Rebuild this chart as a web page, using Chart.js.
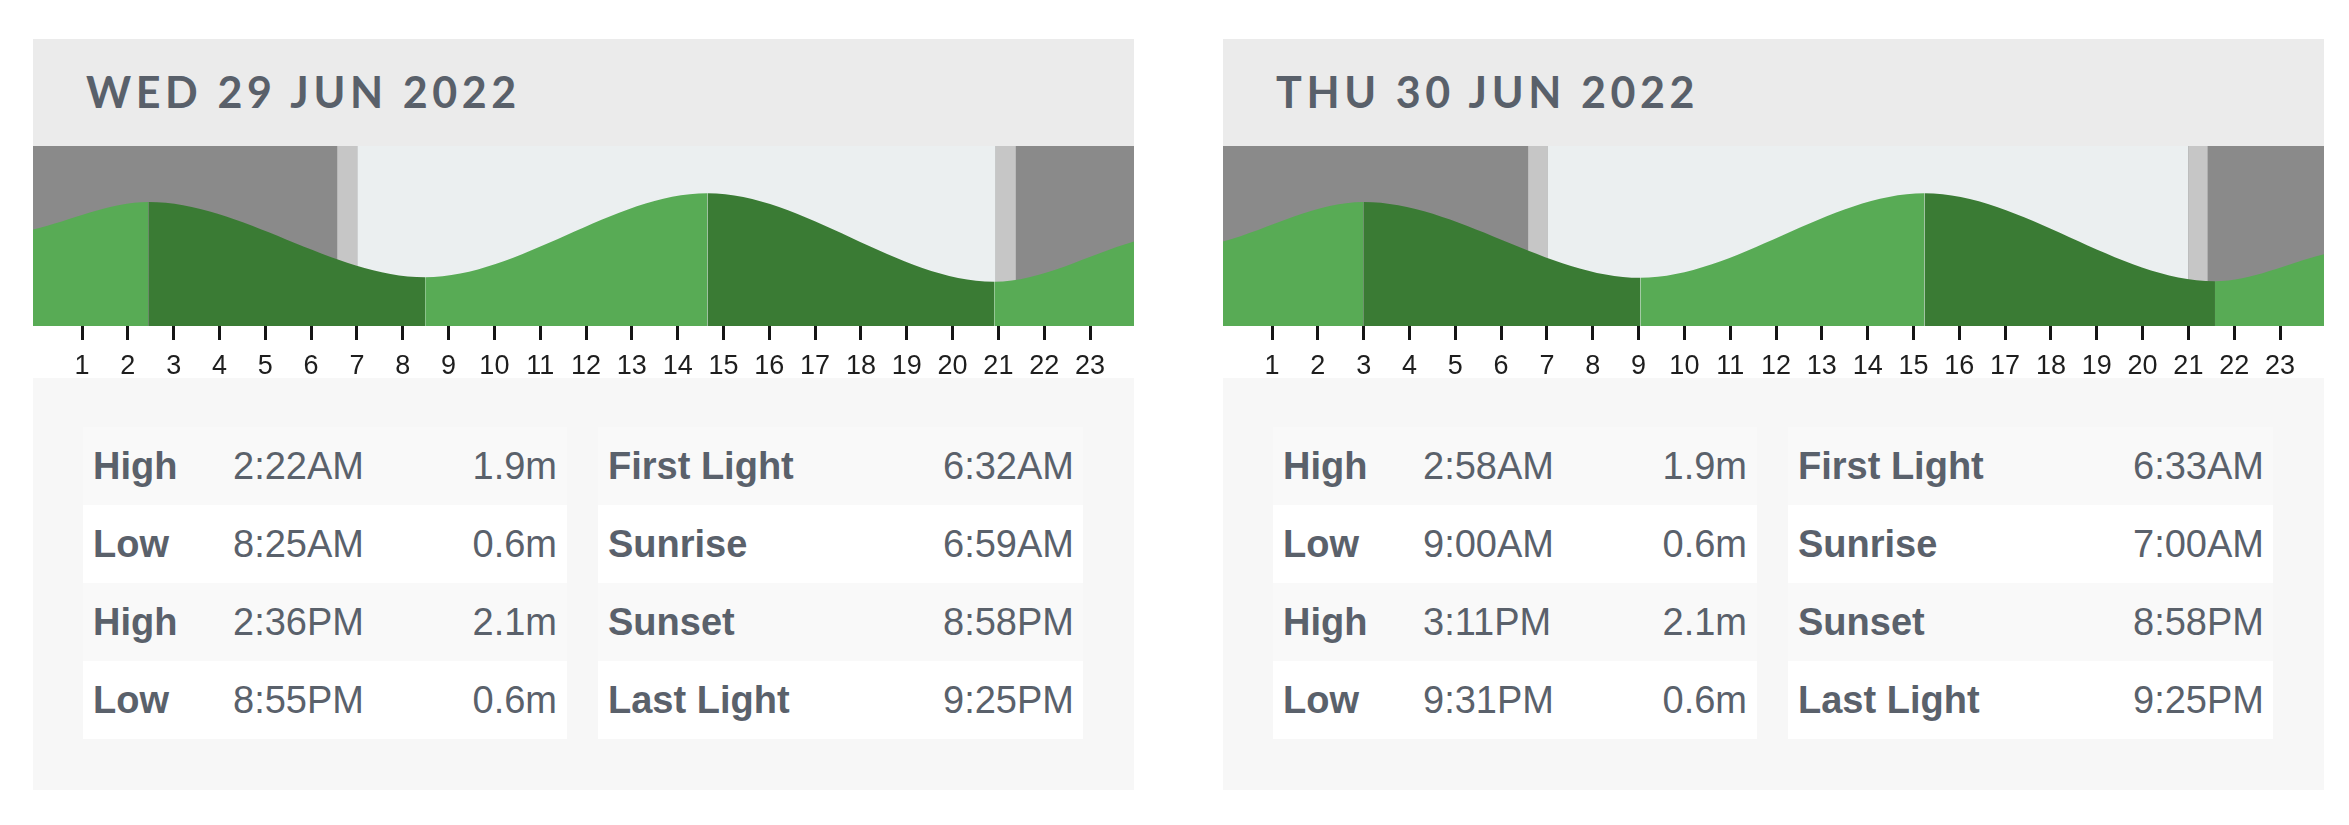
<!DOCTYPE html>
<html>
<head>
<meta charset="utf-8">
<script src="https://cdn.jsdelivr.net/npm/chart.js@4.4.1/dist/chart.umd.min.js"></script>
<style>
  html, body { margin: 0; padding: 0; background: #fff; }
  body { width: 2349px; height: 825px; position: relative; overflow: hidden; font-family: "Liberation Sans", Arial, sans-serif; }
  .panel { position: absolute; top: 39px; width: 1101px; height: 751px; background: #f7f7f7; }
  .head { position: absolute; left: 0; top: 0; width: 100%; height: 107px; background: #ebebeb; }
  .head span { position: absolute; left: 53px; top: -1px; line-height: 107px; font-family: Lato, "Open Sans", sans-serif; font-weight: 700; font-size: 43px; letter-spacing: 4.6px; color: #59606a; white-space: nowrap; }
  .chartbox { position: absolute; left: 0; top: 107px; width: 1101px; height: 232px; background: #fff; }
  .tbl { position: absolute; top: 388px; width: 484px; }
  .row { position: relative; height: 78px; line-height: 78px; font-size: 38px; color: #5a616b; }
  .row:nth-child(odd) { background: #f9f9f9; }
  .row:nth-child(even) { background: #fff; }
  .row span { position: absolute; top: 0; white-space: nowrap; }
  .lab { left: 10px; font-weight: 700; }
  .tm { left: 150px; }
  .rv { right: 10px; }
  .rt { right: 9px; }
</style>
</head>
<body>
<script>
// ---- data ----
const tickLabels = ["1","2","3","4","5","6","7","8","9","10","11","12","13","14","15","16","17","18","19","20","21","22","23"];
const tickHours  = [1,2,3,4,5,6,7,8,9,10,11,12,13,14,15,16,17,18,19,20,21,22,23];

const day1Title  = "WED 29 JUN 2022";
const day1Hours  = [-0.07, 2.45, 8.49, 14.65, 20.91, 23.96];
const day1Height = [1.47, 1.95, 0.64, 2.10, 0.56, 1.26];
const day1Sky    = [6.57, 7.01, 20.94, 21.38]; // first light, sunrise, sunset, last light
const day1Tides  = [["High","2:22AM","1.9m"],["Low","8:25AM","0.6m"],["High","2:36PM","2.1m"],["Low","8:55PM","0.6m"]];
const day1Light  = [["First Light","6:32AM"],["Sunrise","6:59AM"],["Sunset","8:58PM"],["Last Light","9:25PM"]];

const day2Title  = "THU 30 JUN 2022";
const day2Hours  = [-0.07, 3.00, 9.04, 15.24, 21.58, 23.96];
const day2Height = [1.26, 1.95, 0.63, 2.10, 0.57, 1.04];
const day2Sky    = [6.59, 7.02, 21.00, 21.42];
const day2Tides  = [["High","2:58AM","1.9m"],["Low","9:00AM","0.6m"],["High","3:11PM","2.1m"],["Low","9:31PM","0.6m"]];
const day2Light  = [["First Light","6:33AM"],["Sunrise","7:00AM"],["Sunset","8:58PM"],["Last Light","9:25PM"]];

const X_MIN = -0.07, X_MAX = 23.96;
const Y_MIN = -0.209, Y_MAX = 2.923;

const NIGHT = "#8a8a8a", TWILIGHT = "#c6c6c6", DAY = "#ebeff0";
const RISING = "#58ab55", FALLING = "#3a7b34";

const skyPlugin = {
  id: "sky",
  beforeDraw(chart, args, opts) {
    const { ctx, chartArea: a, scales: { x } } = chart;
    const [fl, sr, ss, ll] = opts.times;
    ctx.save();
    ctx.fillStyle = NIGHT;
    ctx.fillRect(a.left, a.top, a.right - a.left, a.bottom - a.top);
    const band = (t0, t1, c) => {
      const p0 = x.getPixelForValue(t0), p1 = x.getPixelForValue(t1);
      ctx.fillStyle = c;
      ctx.fillRect(p0, a.top, p1 - p0, a.bottom - a.top);
    };
    band(fl, sr, TWILIGHT);
    band(sr, ss, DAY);
    band(ss, ll, TWILIGHT);
    ctx.restore();
  }
};

function buildPanel(left, title, hours, heights, sky, tides, light) {
  const p = document.createElement("div");
  p.className = "panel";
  p.style.left = left + "px";
  let html = '<div class="head"><span>' + title + '</span></div>';
  html += '<div class="chartbox"><canvas></canvas></div>';
  html += '<div class="tbl" style="left:50px">';
  tides.forEach(r => { html += '<div class="row"><span class="lab">' + r[0] + '</span><span class="tm">' + r[1] + '</span><span class="rv">' + r[2] + '</span></div>'; });
  html += '</div><div class="tbl" style="left:565px;width:485px">';
  light.forEach(r => { html += '<div class="row"><span class="lab">' + r[0] + '</span><span class="rt">' + r[1] + '</span></div>'; });
  html += '</div>';
  p.innerHTML = html;
  document.body.appendChild(p);

  const canvas = p.querySelector("canvas");
  new Chart(canvas, {
    type: "line",
    data: {
      datasets: [{
        data: hours.map((h, i) => ({ x: h, y: heights[i] })),
        fill: "start",
        backgroundColor: RISING,
        borderColor: "rgba(0,0,0,0)",
        borderWidth: 0,
        pointRadius: 0,
        cubicInterpolationMode: "monotone",
        segment: {
          backgroundColor: c => (c.p1.parsed.y > c.p0.parsed.y ? RISING : FALLING)
        }
      }]
    },
    options: {
      responsive: true,
      maintainAspectRatio: false,
      animation: false,
      layout: { padding: 0 },
      plugins: { legend: { display: false }, tooltip: { enabled: false }, sky: { times: sky } },
      scales: {
        x: {
          type: "linear",
          min: X_MIN,
          max: X_MAX,
          afterBuildTicks: s => { s.ticks = tickHours.map(v => ({ value: v })); },
          afterFit: s => { s.height = 52; },
          grid: { display: true, drawOnChartArea: false, drawTicks: true, tickLength: 14, color: "#151515", lineWidth: 3 },
          border: { display: false },
          ticks: {
            color: "#1e1e1e",
            padding: 10,
            maxRotation: 0,
            autoSkip: false,
            font: { family: '"Liberation Sans Narrow", "Arial Narrow", "Liberation Sans", Arial, sans-serif', size: 27 },
            callback: (v, i) => tickLabels[i]
          }
        },
        y: { display: false, min: Y_MIN, max: Y_MAX }
      }
    },
    plugins: [skyPlugin]
  });
}

buildPanel(33, day1Title, day1Hours, day1Height, day1Sky, day1Tides, day1Light);
buildPanel(1223, day2Title, day2Hours, day2Height, day2Sky, day2Tides, day2Light);
</script>
</body>
</html>
